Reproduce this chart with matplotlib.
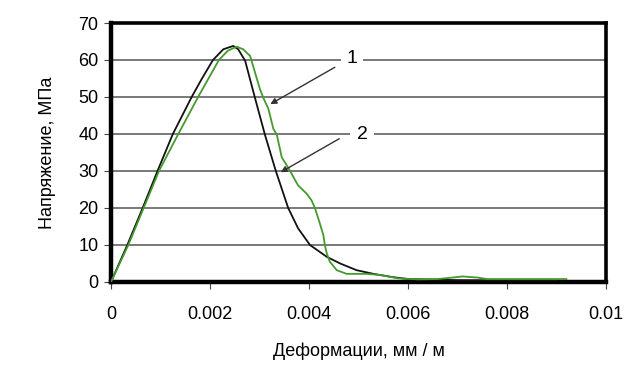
import matplotlib
matplotlib.use("Agg")
import matplotlib.pyplot as plt
import numpy as np

plt.rcParams['font.family'] = ['Liberation Sans', 'DejaVu Sans']
plt.rcParams['font.size'] = 13

# curve 1 (green)
x1 = [0, 0.00035, 0.00066, 0.00097, 0.00136, 0.00156, 0.00176, 0.00197, 0.00218,
      0.00236, 0.00254, 0.00267, 0.00281, 0.00284, 0.00291, 0.00301, 0.00308,
      0.00318, 0.00328, 0.00335, 0.00345, 0.00362, 0.00372, 0.00378, 0.00385,
      0.00395, 0.00405, 0.00412, 0.00422, 0.00429, 0.00432, 0.00436, 0.00442,
      0.00456, 0.00476, 0.00516, 0.00543, 0.0058, 0.0062, 0.0066, 0.0069,
      0.0071, 0.0074, 0.0076, 0.0092]
y1 = [0, 10, 20, 30, 40, 45, 50, 55, 60,
      62.5, 63.6, 62.9, 61.1, 59.8, 56.6, 52.1, 49.7,
      46.8, 41.4, 39.8, 33.7, 30, 27.5, 26.1, 25.2,
      23.9, 22.1, 20, 15.8, 12.7, 10, 7.7, 5.5,
      3.2, 2.2, 2.2, 1.9, 1.0, 0.7, 0.8, 1.2,
      1.5, 1.2, 0.8, 0.8]

# curve 2 (black)
x2 = [0, 0.00033, 0.00064, 0.00094, 0.00125, 0.00144, 0.00163, 0.00183, 0.00206,
      0.00227, 0.00247, 0.00257, 0.00271, 0.00291, 0.00311, 0.00333, 0.00358,
      0.00378, 0.00402, 0.00436, 0.00463, 0.00496, 0.0053, 0.0057, 0.0060,
      0.0070, 0.0090]
y2 = [0, 10, 20, 30, 40, 45, 50, 54.8, 60,
      62.9, 63.8, 62.9, 59.8, 49.7, 39.8, 30, 20,
      14.5, 10, 6.8, 5.0, 3.2, 2.2, 1.3, 0.8,
      0.5, 0.4]

xticks = [0, 0.002, 0.004, 0.006, 0.008, 0.01]
xticklabels = ['0', '0.002', '0.004', '0.006', '0.008', '0.01']
yticks = [0, 10, 20, 30, 40, 50, 60, 70]

fig = plt.figure(figsize=(6.4, 3.68), dpi=100)
ax = fig.add_axes([0.1734, 0.2337, 0.7735, 0.7038])

for v in yticks[1:-1]:
    ax.axhline(v, color='#555555', lw=1.1, zorder=1)

ax.plot(x2, y2, color='#111111', lw=1.3, zorder=3, solid_joinstyle='round')
ax.plot(x1, y1, color='#449a2c', lw=1.3, zorder=3, solid_joinstyle='round')

ax.set_xlim(0, 0.01)
ax.set_ylim(0, 70)
ax.set_xticks(xticks)
ax.set_xticklabels(xticklabels)
ax.set_yticks(yticks)
ax.tick_params(direction='out', length=5, width=0.8, color='#444444')
ax.tick_params(axis='x', pad=12)
ax.tick_params(axis='y', pad=4)

for s in ['left', 'bottom']:
    ax.spines[s].set_linewidth(3.2)
for s in ['top', 'right']:
    ax.spines[s].set_linewidth(2.6)

ax.set_xlabel('Деформации, мм / м', labelpad=14)
ax.set_ylabel('Напряжение, МПа', labelpad=16)

# arrows and labels
ax.annotate('', xy=(0.00317, 47.7), xytext=(0.00457, 58.4),
            arrowprops=dict(arrowstyle='-|>', color='#333333', lw=1.0,
                            mutation_scale=9), zorder=4)
ax.annotate('', xy=(0.00338, 29.3), xytext=(0.00466, 39.1),
            arrowprops=dict(arrowstyle='-|>', color='#333333', lw=1.0,
                            mutation_scale=9), zorder=4)
ax.text(0.00487, 60.3, '1', ha='center', va='center', fontsize=14,
        bbox=dict(facecolor='white', edgecolor='none', pad=4), zorder=5)
ax.text(0.00507, 39.8, '2', ha='center', va='center', fontsize=14,
        bbox=dict(facecolor='white', edgecolor='none', pad=5), zorder=5)

fig.savefig('out.png', dpi=100)
